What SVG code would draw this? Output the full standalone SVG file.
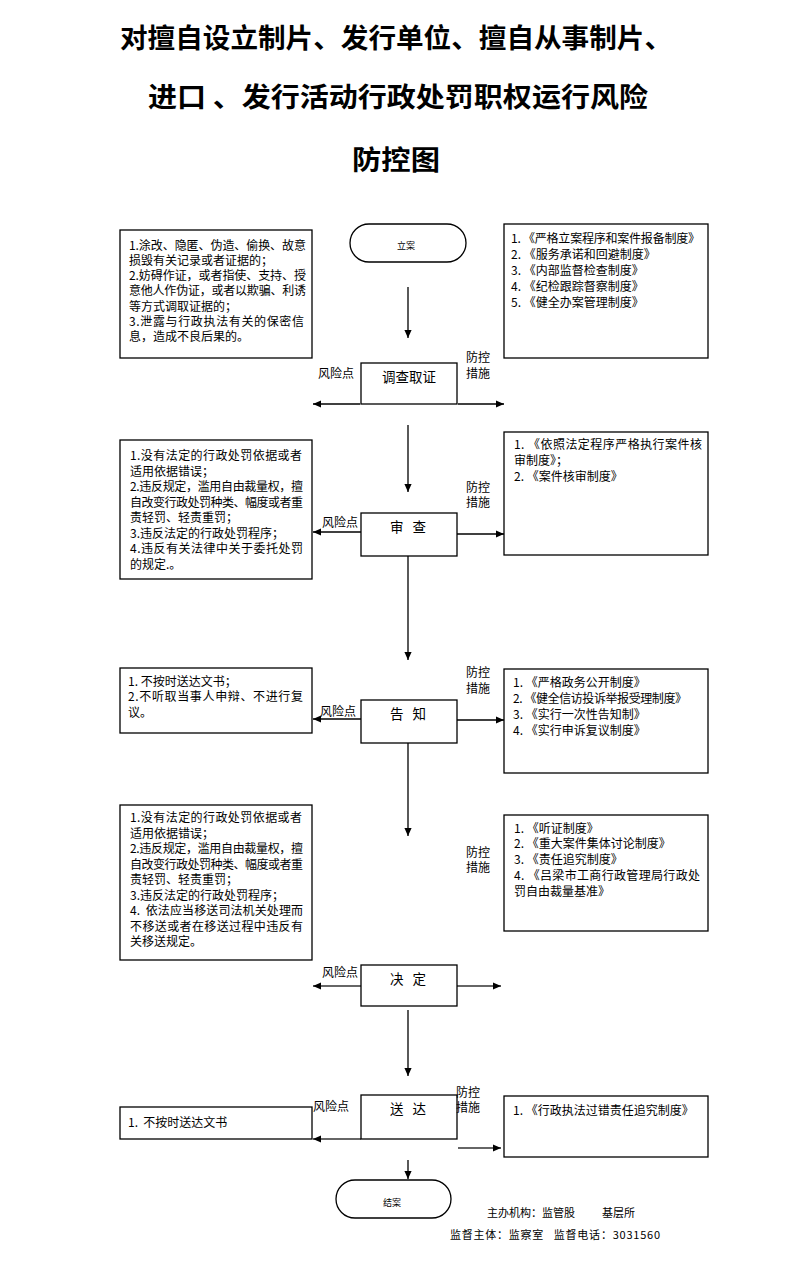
<svg xmlns="http://www.w3.org/2000/svg" width="793" height="1263" viewBox="0 0 793 1263">
<defs>
<style>
.title{font-family:"Noto Sans CJK SC","Noto Sans CJK TC",sans-serif;font-size:27px;font-weight:bold;fill:#000}
.t{font-family:"Noto Sans CJK SC",sans-serif;font-size:12px;fill:#000}
.n{font-family:"Noto Sans CJK SC",sans-serif;font-size:13.5px;fill:#000}
.s{font-family:"Noto Sans CJK SC",sans-serif;font-size:9px;fill:#000}
.f{font-family:"Noto Sans CJK SC",sans-serif;font-size:11px;fill:#000}
.box{fill:#fff;stroke:#000;stroke-width:1.3}
.ln{fill:none;stroke:#000;stroke-width:1.3}
.lg{fill:none;stroke:#333;stroke-width:1.5}
</style>
<marker id="ah" viewBox="0 0 10 10" refX="10" refY="5" markerWidth="9" markerHeight="8" markerUnits="userSpaceOnUse" orient="auto"><path d="M0,0.5 L10,5 L0,9.5 z" fill="#000"/></marker>
</defs>
<rect width="793" height="1263" fill="#fff"/>

<g id="title">
<text class="title" x="120" y="48" textLength="552" lengthAdjust="spacingAndGlyphs">对擅自设立制片、发行单位、擅自从事制片、</text>
<text class="title" x="148" y="107" textLength="500" lengthAdjust="spacingAndGlyphs">进口 、发行活动行政处罚职权运行风险</text>
<text class="title" x="352" y="170" textLength="88" lengthAdjust="spacingAndGlyphs">防控图</text>
</g>

<g id="connectors">
<line class="ln" x1="408" y1="287" x2="408" y2="338" marker-end="url(#ah)"/>
<line class="ln" x1="360" y1="404" x2="313" y2="404" marker-end="url(#ah)"/>
<line class="ln" x1="458" y1="404" x2="504" y2="404" marker-end="url(#ah)"/>
<line class="ln" x1="408" y1="425" x2="408" y2="492" marker-end="url(#ah)"/>
<line class="ln" x1="361" y1="532" x2="313" y2="532" marker-end="url(#ah)"/>
<line class="ln" x1="457" y1="534" x2="504" y2="534" marker-end="url(#ah)"/>
<line class="ln" x1="408" y1="556" x2="408" y2="660" marker-end="url(#ah)"/>
<line class="ln" x1="361" y1="719" x2="313" y2="719" marker-end="url(#ah)"/>
<line class="ln" x1="457" y1="720" x2="504" y2="720" marker-end="url(#ah)"/>
<line class="ln" x1="408" y1="743" x2="408" y2="836" marker-end="url(#ah)"/>
<line class="lg" x1="361" y1="986" x2="313" y2="986" marker-end="url(#ah)"/>
<line class="lg" x1="457" y1="986" x2="501" y2="986" marker-end="url(#ah)"/>
<line class="ln" x1="408" y1="1010" x2="408" y2="1076" marker-end="url(#ah)"/>
<line class="lg" x1="361" y1="1139" x2="313" y2="1139" marker-end="url(#ah)"/>
<line class="lg" x1="458" y1="1148" x2="501" y2="1148" marker-end="url(#ah)"/>
<line class="ln" x1="408" y1="1160" x2="408" y2="1179" marker-end="url(#ah)"/>
</g>

<g id="start">
<rect class="box" x="350" y="224" width="116" height="38" rx="19"/>
<text class="s" x="406" y="249" text-anchor="middle">立案</text>
</g>

<g id="risk1">
<rect class="box" x="120" y="230" width="192" height="128"/>
<text class="t" x="129" y="249.5" textLength="177" lengthAdjust="spacing">1.涂改、隐匿、伪造、偷换、故意</text>
<text class="t" x="129" y="264.8">损毁有关记录或者证据的；</text>
<text class="t" x="129" y="280.1" textLength="177" lengthAdjust="spacing">2.妨碍作证，或者指使、支持、授</text>
<text class="t" x="129" y="295.4" textLength="177" lengthAdjust="spacing">意他人作伪证，或者以欺骗、利诱</text>
<text class="t" x="129" y="310.7">等方式调取证据的；</text>
<text class="t" x="129" y="326" textLength="175" lengthAdjust="spacing">3.泄露与行政执法有关的保密信</text>
<text class="t" x="129" y="341.3">息，造成不良后果的。</text>
</g>

<g id="measure1">
<rect class="box" x="504" y="224" width="204" height="134"/>
<text class="t" x="511" y="242.5" textLength="189" lengthAdjust="spacing">1. 《严格立案程序和案件报备制度》</text>
<text class="t" x="511" y="258.5">2. 《服务承诺和回避制度》</text>
<text class="t" x="511" y="274.5">3. 《内部监督检查制度》</text>
<text class="t" x="511" y="290.5">4. 《纪检跟踪督察制度》</text>
<text class="t" x="511" y="306.5">5. 《健全办案管理制度》</text>
</g>

<g id="step1">
<rect class="box" x="361" y="363" width="96" height="41"/>
<text class="n" x="409" y="382" text-anchor="middle">调查取证</text>
<text class="t" x="318" y="378">风险点</text>
<text class="t" x="466" y="362">防控</text>
<text class="t" x="466" y="378">措施</text>
</g>

<g id="risk2">
<rect class="box" x="120" y="440" width="192" height="139"/>
<text class="t" x="130" y="460" textLength="172" lengthAdjust="spacing">1.没有法定的行政处罚依据或者</text>
<text class="t" x="130" y="475.5">适用依据错误；</text>
<text class="t" x="130" y="491" textLength="173" lengthAdjust="spacing">2.违反规定，滥用自由裁量权，擅</text>
<text class="t" x="130" y="506.5" textLength="173" lengthAdjust="spacing">自改变行政处罚种类、幅度或者重</text>
<text class="t" x="130" y="522">责轻罚、轻责重罚；</text>
<text class="t" x="130" y="537.5">3.违反法定的行政处罚程序；</text>
<text class="t" x="130" y="553" textLength="173" lengthAdjust="spacing">4.违反有关法律中关于委托处罚</text>
<text class="t" x="130" y="568.5">的规定.。</text>
</g>

<g id="measure2">
<rect class="box" x="504" y="432" width="204" height="123"/>
<text class="t" x="514" y="448.5" textLength="188" lengthAdjust="spacing">1. 《依照法定程序严格执行案件核</text>
<text class="t" x="514" y="464.5">审制度》；</text>
<text class="t" x="514" y="480.5">2. 《案件核审制度》</text>
</g>

<g id="step2">
<rect class="box" x="361" y="513" width="96" height="43"/>
<text class="n" x="408" y="532" text-anchor="middle" xml:space="preserve">审   查</text>
<text class="t" x="322" y="527">风险点</text>
<text class="t" x="466" y="492">防控</text>
<text class="t" x="466" y="507">措施</text>
</g>

<g id="risk3">
<rect class="box" x="120" y="668" width="192" height="65"/>
<text class="t" x="128" y="685.5">1. 不按时送达文书；</text>
<text class="t" x="128" y="701" textLength="175" lengthAdjust="spacing">2.不听取当事人申辩、不进行复</text>
<text class="t" x="128" y="716.5">议。</text>
</g>

<g id="measure3">
<rect class="box" x="504" y="669" width="204" height="104"/>
<text class="t" x="513" y="686.5">1. 《严格政务公开制度》</text>
<text class="t" x="513" y="702.5" textLength="174" lengthAdjust="spacing">2. 《健全信访投诉举报受理制度》</text>
<text class="t" x="513" y="718.5">3. 《实行一次性告知制》</text>
<text class="t" x="513" y="734.5">4. 《实行申诉复议制度》</text>
</g>

<g id="step3">
<rect class="box" x="361" y="700" width="96" height="43"/>
<text class="n" x="408" y="719" text-anchor="middle" xml:space="preserve">告   知</text>
<text class="t" x="320" y="716">风险点</text>
<text class="t" x="466" y="677">防控</text>
<text class="t" x="466" y="693">措施</text>
</g>

<g id="risk4">
<rect class="box" x="120" y="805" width="192" height="155"/>
<text class="t" x="130" y="822" textLength="172" lengthAdjust="spacing">1.没有法定的行政处罚依据或者</text>
<text class="t" x="130" y="837.5">适用依据错误；</text>
<text class="t" x="130" y="853" textLength="173" lengthAdjust="spacing">2.违反规定，滥用自由裁量权，擅</text>
<text class="t" x="130" y="868.5" textLength="173" lengthAdjust="spacing">自改变行政处罚种类、幅度或者重</text>
<text class="t" x="130" y="884">责轻罚、轻责重罚；</text>
<text class="t" x="130" y="899.5">3.违反法定的行政处罚程序；</text>
<text class="t" x="130" y="915" textLength="173" lengthAdjust="spacing" xml:space="preserve">4.  依法应当移送司法机关处理而</text>
<text class="t" x="130" y="930.5" textLength="173" lengthAdjust="spacing">不移送或者在移送过程中违反有</text>
<text class="t" x="130" y="946">关移送规定。</text>
</g>

<g id="measure4">
<rect class="box" x="504" y="815" width="204" height="116"/>
<text class="t" x="514" y="832.5">1. 《听证制度》</text>
<text class="t" x="514" y="848.3">2. 《重大案件集体讨论制度》</text>
<text class="t" x="514" y="864.1">3. 《责任追究制度》</text>
<text class="t" x="514" y="879.9" textLength="186" lengthAdjust="spacing">4. 《吕梁市工商行政管理局行政处</text>
<text class="t" x="514" y="895.7">罚自由裁量基准》</text>
<text class="t" x="466" y="857">防控</text>
<text class="t" x="466" y="872">措施</text>
</g>

<g id="step4">
<rect class="box" x="361" y="965" width="96" height="41"/>
<text class="n" x="408" y="984" text-anchor="middle" xml:space="preserve">决   定</text>
<text class="t" x="322" y="977">风险点</text>
</g>

<g id="risk5">
<rect class="box" x="120" y="1107" width="192" height="32"/>
<text class="t" x="128" y="1126.5" xml:space="preserve">1.  不按时送达文书</text>
</g>

<g id="measure5">
<rect class="box" x="504" y="1096" width="204" height="61"/>
<text class="t" x="513" y="1114.5">1. 《行政执法过错责任追究制度》</text>
</g>

<g id="step5">
<rect class="box" x="361" y="1095" width="96" height="44"/>
<text class="n" x="408" y="1114" text-anchor="middle" xml:space="preserve">送   达</text>
<text class="t" x="313" y="1111">风险点</text>
<text class="t" x="456" y="1097">防控</text>
<text class="t" x="456" y="1112">措施</text>
</g>

<g id="end">
<rect class="box" x="336" y="1180" width="115" height="38" rx="19"/>
<text class="s" x="392" y="1206" text-anchor="middle">结案</text>
</g>

<g id="footer">
<text class="f" x="487" y="1217">主办机构：监管股</text>
<text class="f" x="602" y="1217">基层所</text>
<text class="f" x="450" y="1239" textLength="210" lengthAdjust="spacing" xml:space="preserve">监督主体：监察室   监督电话：3031560</text>
</g>
</svg>
